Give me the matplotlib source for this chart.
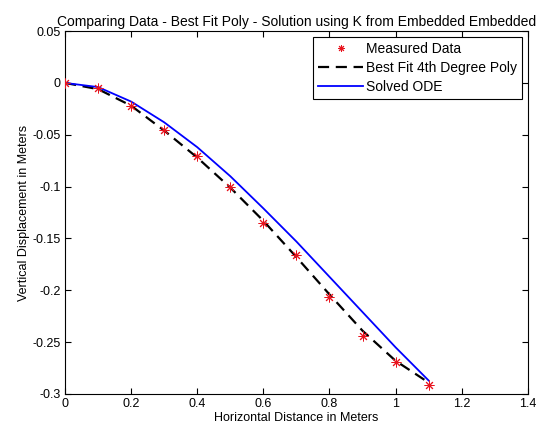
import numpy as np
import matplotlib
matplotlib.use('Agg')
from matplotlib import pyplot as plt

plt.rcParams['font.family'] = ['Liberation Sans', 'DejaVu Sans']
plt.rcParams['axes.unicode_minus'] = False

# measured points
x_meas = [0, 0.1, 0.2, 0.3, 0.4, 0.5, 0.6, 0.7, 0.8, 0.9, 1.0, 1.1]
y_meas = [0, -0.005, -0.0225, -0.045, -0.0705, -0.100, -0.135, -0.166, -0.206, -0.244, -0.2695, -0.291]

# 4th degree poly fit
x_poly = [0, 0.1, 0.2, 0.3, 0.4, 0.5, 0.6, 0.7, 0.8, 0.9, 1.0, 1.1]
y_poly = [0, -0.006, -0.022, -0.046, -0.072, -0.101, -0.133, -0.168, -0.204, -0.239, -0.268, -0.289]

# solved ODE
x_ode = [0, 0.1, 0.2, 0.3, 0.4, 0.5, 0.6, 0.7, 0.8, 0.9, 1.0, 1.1]
y_ode = [0, -0.004, -0.018, -0.038, -0.062, -0.090, -0.121, -0.153, -0.187, -0.221, -0.255, -0.287]

fig = plt.figure(figsize=(5.38, 4.32), dpi=100)
ax = fig.add_axes([0.121, 0.088, 0.86, 0.84])

ax.plot(x_meas, y_meas, marker=(8, 2, 0), linestyle='none', color='#e8141e', markersize=7,
        markeredgewidth=0.7, label='Measured Data', zorder=3)
ax.plot(x_poly, y_poly, '--', color='black', lw=1.6, dashes=(5, 3), label='Best Fit 4th Degree Poly')
ax.plot(x_ode, y_ode, '-', color='#0000ff', lw=1.3, label='Solved ODE')

ax.set_xlim(0, 1.4)
ax.set_ylim(-0.3, 0.05)
ax.set_xticks(np.arange(0, 1.41, 0.2))
ax.set_xticklabels(['0', '0.2', '0.4', '0.6', '0.8', '1', '1.2', '1.4'])
ax.set_yticks(np.arange(-0.3, 0.051, 0.05))
ax.set_yticklabels(['-0.3', '-0.25', '-0.2', '-0.15', '-0.1', '-0.05', '0', '0.05'])
ax.tick_params(direction='in', top=True, right=True, labelsize=9, length=4, pad=3)
for s in ax.spines.values():
    s.set_linewidth(0.8)

ax.set_xlabel('Horizontal Distance in Meters', fontsize=9, labelpad=1)
ax.set_ylabel('Vertical Displacement in Meters', fontsize=9, labelpad=2)
ax.set_title('Comparing Data - Best Fit Poly - Solution using K from Embedded Embedded', fontsize=10, pad=4)

leg = ax.legend(loc='upper right', fontsize=10, numpoints=1, handlelength=3.2, handletextpad=0.2,
                fancybox=False, framealpha=1, edgecolor='black', borderpad=0.4, labelspacing=0.35,
                borderaxespad=0.4, markerscale=0.7)
leg.get_frame().set_linewidth(0.8)

fig.savefig('out.png', dpi=100)
